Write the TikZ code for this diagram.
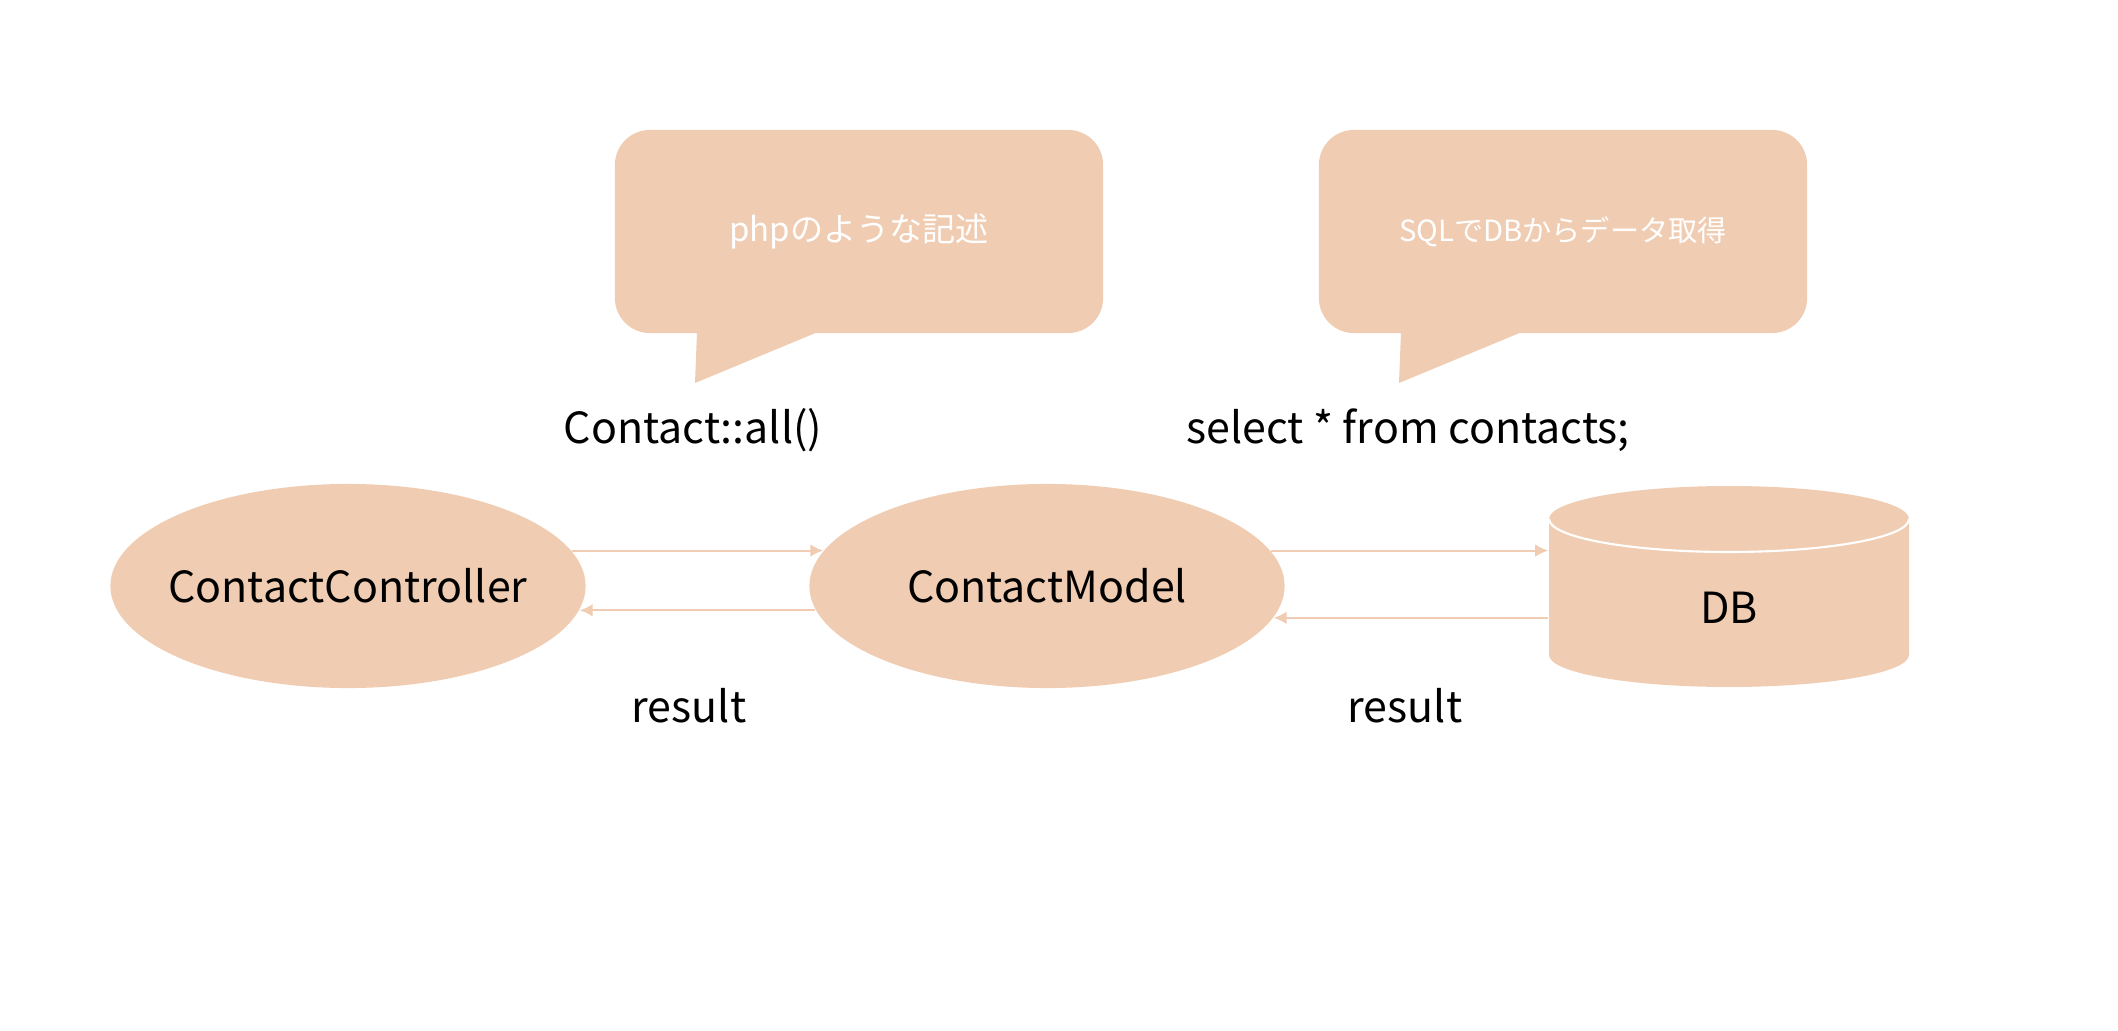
\documentclass[tikz,border=0pt]{standalone}
\usepackage{fontspec}
\setmainfont{Noto Sans CJK JP}
\usetikzlibrary{shapes.geometric,arrows.meta}
\definecolor{peach}{HTML}{F0CDB2}
\tikzset{
  entity/.style={ellipse, fill=peach, minimum width=4.75cm, minimum height=2.04cm, inner sep=0pt, font=\fontsize{12.2}{15}\selectfont},
  bubble/.style={rectangle, rounded corners=0.35cm, fill=peach, text=white, minimum width=4.88cm, minimum height=2.03cm},
  call/.style={font=\fontsize{12.2}{15}\selectfont},
  flow/.style={->, >={Latex[length=3.7pt,width=3.6pt]}, draw=peach, line width=0.6pt}
}
\begin{document}
\begin{tikzpicture}[x=0.01cm, y=0.01cm]
  \useasboundingbox (0,0) rectangle (2118,1030);
  % speech bubbles: left edge, name, text, font size
  \foreach \l/\t/\txt/\fs in {615/bubphp/phpのような記述/9.4, 1319/bubsql/SQLでDBからデータ取得/8.3}
  {
    \node[bubble, font=\fontsize{\fs}{\fs}\selectfont] (\t) at ({\l+244},798.5) {\txt};
    \fill[peach] ({\l+82},698) -- ({\l+80},647) -- ({\l+203},698) -- cycle;
  }
  \node[call] (all) at (693,600) {Contact::all()};
  \node[call] (select) at (1408,600) {select * from contacts;};

  \node[entity] (ctrl) at (348,444) {\makebox[0pt]{ContactController}};
  \node[entity] (model) at (1047,444) {\makebox[0pt]{ContactModel}};

  % database cylinder
  \fill[peach] (1549,511) -- (1549,375) arc (180:360:180 and 32) -- (1909,511) arc (0:180:180 and 33) -- cycle;
  \draw[white, line width=0.6pt] (1549,511) arc (180:360:180 and 33);
  \node[call, minimum width=3.6cm] (db) at (1729,422) {DB};

  \draw[flow] (ctrl.9) -- (model.171);
  \draw[flow] (model.186) -- (ctrl.-6);
  \draw[flow] (model.9) -- (model.9 -| db.west);
  \draw[flow] (model.-8 -| db.west) -- (model.-8);

  \node[call] (res1) at (689,324) {result};
  \node[call] (res2) at (1405,324) {result};
\end{tikzpicture}
\end{document}
